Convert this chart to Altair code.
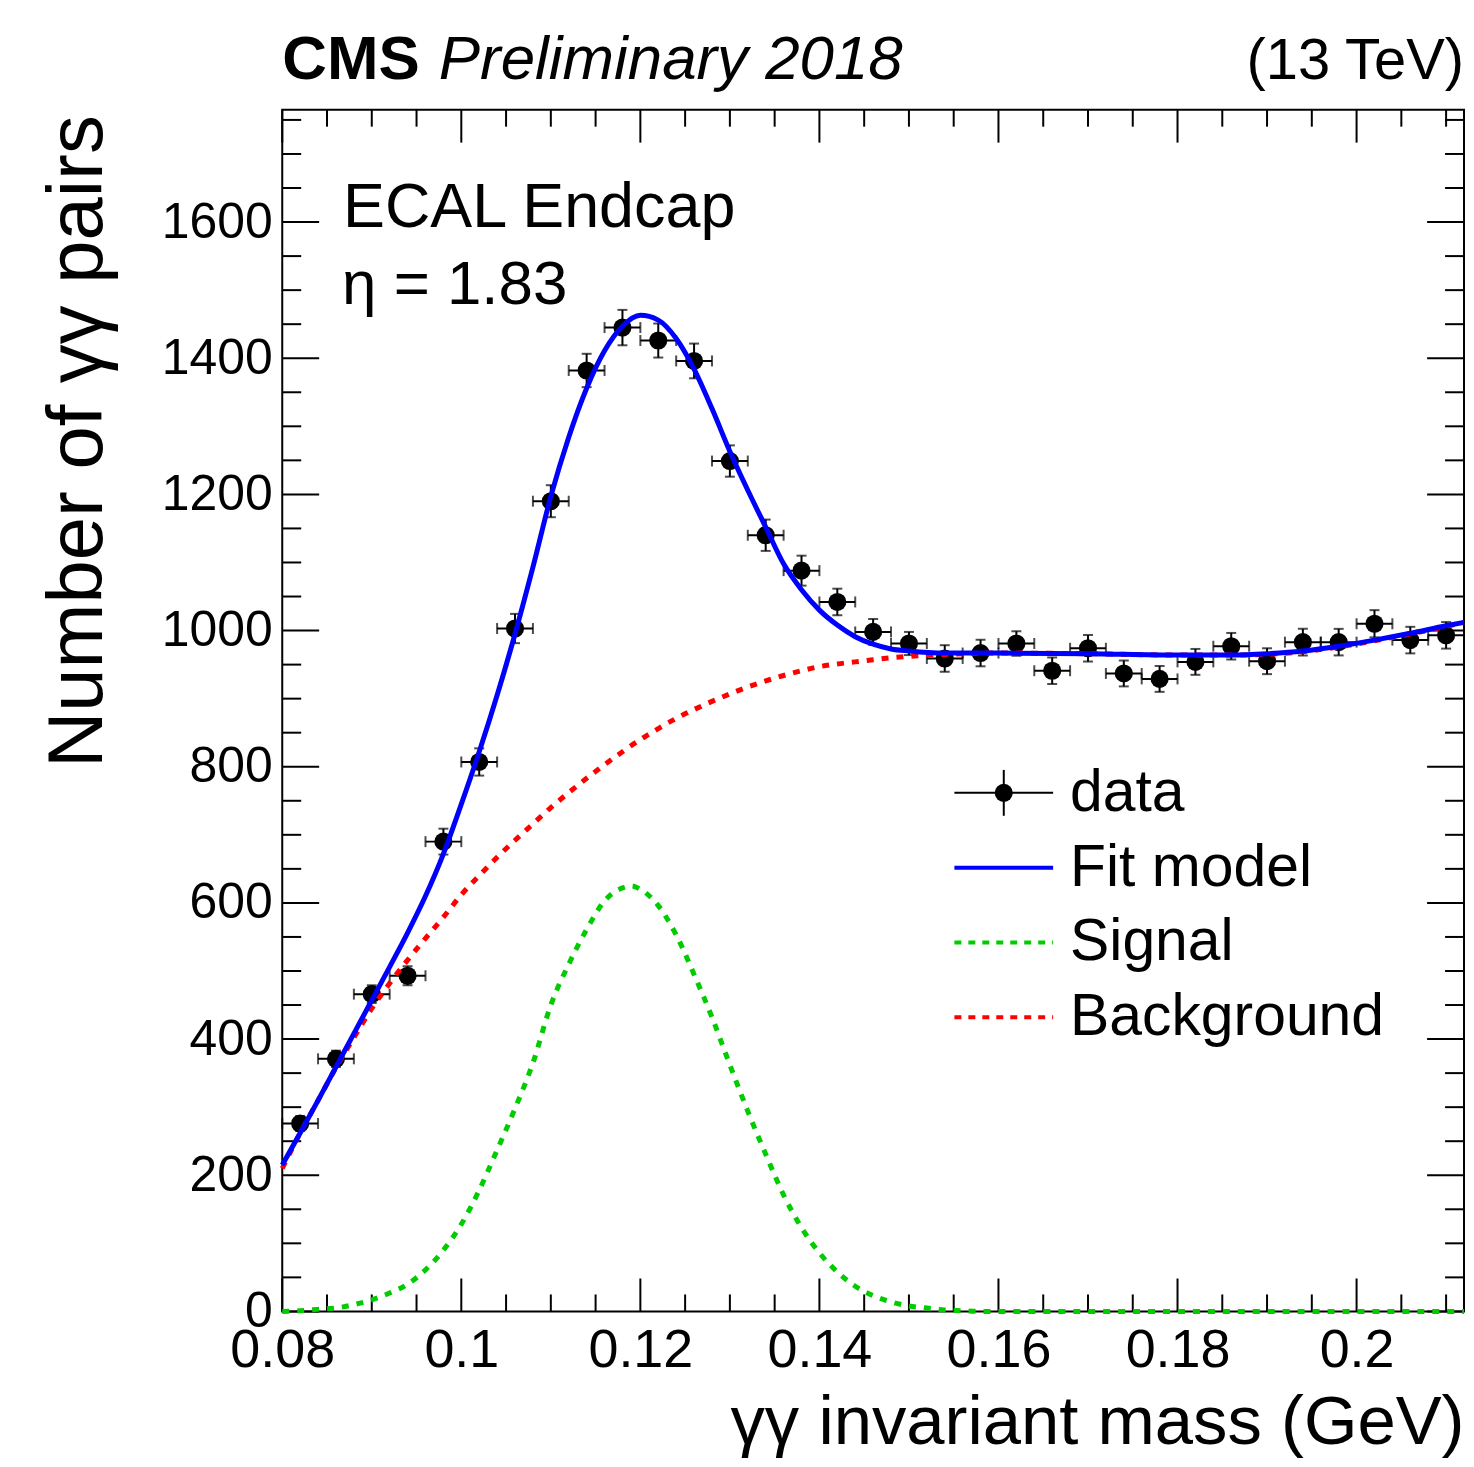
import altair as alt
import pandas as pd

FONT = "Liberation Sans"

# ---------------- data ----------------
mass = [0.082, 0.086, 0.090, 0.094, 0.098, 0.102, 0.106, 0.110, 0.114, 0.118,
        0.122, 0.126, 0.130, 0.134, 0.138, 0.142, 0.146, 0.150, 0.154, 0.158,
        0.162, 0.166, 0.170, 0.174, 0.178, 0.182, 0.186, 0.190, 0.194, 0.198,
        0.202, 0.206, 0.210]
counts = [276, 371, 466, 493, 690, 807, 1003, 1190, 1382, 1445,
          1426, 1396, 1249, 1140, 1088, 1042, 998, 981, 959, 967,
          981, 941, 974, 937, 929, 954, 977, 955, 983, 983,
          1010, 986, 993]
errors = [11, 12, 13, 14, 19, 20, 21.5, 23.5, 24.5, 26,
          25, 25.5, 23, 23, 22, 19.5, 19, 17, 19.5, 19.5,
          18, 19.5, 19.5, 19, 19, 19, 19.5, 19, 19.5, 19.5,
          20, 19.5, 19.5]
BIN_HALF = 0.002

sig_x = [0.080, 0.082, 0.084, 0.086, 0.088, 0.090, 0.092, 0.094, 0.096, 0.098,
         0.100, 0.102, 0.104, 0.106, 0.108, 0.110, 0.112, 0.114, 0.116, 0.118,
         0.119, 0.120, 0.122, 0.124, 0.126, 0.128, 0.130, 0.132, 0.134, 0.136,
         0.138, 0.140, 0.142, 0.144, 0.146, 0.148, 0.150, 0.152, 0.154, 0.156,
         0.158, 0.212]
sig_y = [0, 1, 3, 5, 10, 17, 27, 40, 61, 90,
         128, 178, 237, 298, 365, 450, 510, 561, 603, 622,
         625, 620, 596, 553, 495, 432, 362, 294, 231, 171,
         123, 86, 58, 37, 23, 14, 8, 5, 2, 1,
         0, 0]

bkg_x = [0.080, 0.082, 0.084, 0.086, 0.088, 0.090, 0.092, 0.094, 0.096, 0.098,
         0.100, 0.102, 0.104, 0.106, 0.108, 0.110, 0.112, 0.114, 0.116, 0.118,
         0.120, 0.122, 0.124, 0.126, 0.128, 0.130, 0.132, 0.134, 0.136, 0.138,
         0.140, 0.142, 0.144, 0.146, 0.148, 0.150, 0.154, 0.160, 0.170, 0.180,
         0.186, 0.190, 0.194, 0.198, 0.202, 0.206, 0.210, 0.212]
bkg_y = [210, 262, 310, 358, 402, 445, 482, 516, 548, 579,
         612, 640, 667, 692, 716, 740, 762, 783, 803, 822,
         840, 856, 871, 884, 896, 907, 917, 926, 934, 941,
         947, 951, 954, 957, 960, 962, 965, 967, 966, 964,
         964, 965, 969, 976, 985, 995, 1006, 1012]

fit_x = [0.080, 0.082, 0.084, 0.086, 0.088, 0.090, 0.092, 0.094, 0.096, 0.098,
         0.100, 0.102, 0.104, 0.106, 0.108, 0.110, 0.112, 0.114, 0.116, 0.118,
         0.120, 0.122, 0.124, 0.126, 0.128, 0.130, 0.132, 0.134, 0.136, 0.138,
         0.140, 0.142, 0.144, 0.146, 0.148, 0.150, 0.154, 0.160, 0.170, 0.180,
         0.186, 0.190, 0.194, 0.198, 0.202, 0.206, 0.210, 0.212]
fit_y = [215, 262, 310, 359, 408, 457, 506, 556, 610, 672,
         745, 822, 905, 995, 1093, 1197, 1284, 1356, 1411, 1447,
         1463, 1456, 1429, 1384, 1326, 1263, 1206, 1152, 1098, 1060,
         1030, 1008, 991, 980, 973, 970, 967, 967, 966, 964,
         964, 966, 970, 977, 986, 996, 1007, 1012]

x_tick_values = [0.08, 0.10, 0.12, 0.14, 0.16, 0.18, 0.20]
y_tick_values = [0, 200, 400, 600, 800, 1000, 1200, 1400, 1600]
x_minor_values = [round(0.08 + 0.005 * i, 3) for i in range(1, 27) if i % 4 != 0]
y_minor_values = [50 * i for i in range(1, 36) if i % 4 != 0]

legend_labels = ["data", "Fit model", "Signal", "Background"]

X_DOMAIN = [0.08, 0.212]
Y_DOMAIN = [0, 1765]
W, H = 1185, 1205

xs = alt.Scale(domain=X_DOMAIN, nice=False, zero=False)
ys = alt.Scale(domain=Y_DOMAIN, nice=False, zero=False)

# ---------------- data frames ----------------
pts = pd.DataFrame({"m": mass, "n": counts, "e": errors})
pts["lo"] = pts["n"] - pts["e"]
pts["hi"] = pts["n"] + pts["e"]
pts["ml"] = pts["m"] - BIN_HALF
pts["mh"] = pts["m"] + BIN_HALF

sig_df = pd.DataFrame({"m": sig_x, "v": sig_y})
bkg_df = pd.DataFrame({"m": bkg_x, "v": bkg_y})
fit_df = pd.DataFrame({"m": fit_x, "v": fit_y})

x_axis = alt.Axis(
    values=x_tick_values, format=".2~f", labelFont=FONT, labelFontSize=54,
    labelColor="black", ticks=False, tickSize=0, domain=False, grid=False,
    labelPadding=12, labelFlush=False, labelOverlap=False,
    title="γγ invariant mass (GeV)", titleFont=FONT, titleFontSize=69,
    titleFontWeight="normal", titleColor="black", titleAlign="right",
    titleAnchor="end", titleX=W, titleY=132, titleBaseline="alphabetic",
)
y_axis = alt.Axis(
    values=y_tick_values, format="d", labelFont=FONT, labelFontSize=50,
    labelColor="black", ticks=False, tickSize=0, domain=False, grid=False,
    labelPadding=10, labelFlush=False, labelOverlap=False,
    title="Number of γγ pairs", titleFont=FONT, titleFontSize=78,
    titleFontWeight="normal", titleColor="black", titleAngle=270,
    titleAlign="right", titleBaseline="alphabetic", titleX=-181, titleY=5,
)

base = alt.Chart(pts)

# axes carrier (invisible points)
axes_layer = base.mark_point(opacity=0).encode(
    x=alt.X("m:Q", scale=xs, axis=x_axis),
    y=alt.Y("n:Q", scale=ys, axis=y_axis),
)

err_v = base.mark_rule(color="black", strokeWidth=2).encode(
    x=alt.X("m:Q", scale=xs), y=alt.Y("lo:Q", scale=ys), y2="hi:Q")
err_h = base.mark_rule(color="black", strokeWidth=2).encode(
    x=alt.X("ml:Q", scale=xs), x2="mh:Q", y=alt.Y("n:Q", scale=ys))
cap_lo = base.mark_tick(color="black", orient="horizontal", size=10, thickness=2).encode(
    x=alt.X("m:Q", scale=xs), y=alt.Y("lo:Q", scale=ys))
cap_hi = base.mark_tick(color="black", orient="horizontal", size=10, thickness=2).encode(
    x=alt.X("m:Q", scale=xs), y=alt.Y("hi:Q", scale=ys))
cap_l = base.mark_tick(color="black", orient="vertical", size=11, thickness=2).encode(
    x=alt.X("ml:Q", scale=xs), y=alt.Y("n:Q", scale=ys))
cap_r = base.mark_tick(color="black", orient="vertical", size=11, thickness=2).encode(
    x=alt.X("mh:Q", scale=xs), y=alt.Y("n:Q", scale=ys))
dots = base.mark_circle(color="black", size=330, opacity=1).encode(
    x=alt.X("m:Q", scale=xs), y=alt.Y("n:Q", scale=ys))

bkg_line = alt.Chart(bkg_df).mark_line(
    color="#ff0000", strokeWidth=5, strokeDash=[7, 8], interpolate="monotone"
).encode(x=alt.X("m:Q", scale=xs), y=alt.Y("v:Q", scale=ys))
sig_line = alt.Chart(sig_df).mark_line(
    color="#00cc00", strokeWidth=5, strokeDash=[7, 8], interpolate="monotone"
).encode(x=alt.X("m:Q", scale=xs), y=alt.Y("v:Q", scale=ys))
fit_line = alt.Chart(fit_df).mark_line(
    color="#0000ff", strokeWidth=5, interpolate="monotone"
).encode(x=alt.X("m:Q", scale=xs), y=alt.Y("v:Q", scale=ys))

# ---------------- inward ticks (ROOT style) ----------------
XMAJ, XMIN, YMAJ, YMIN = 33, 17, 37, 19
xmaj_df = pd.DataFrame({"t": x_tick_values})
xmin_df = pd.DataFrame({"t": x_minor_values})
ymaj_df = pd.DataFrame({"t": y_tick_values})
ymin_df = pd.DataFrame({"t": y_minor_values})


def xticks(df, length):
    b = alt.Chart(df).mark_rule(color="black", strokeWidth=2)
    bottom = b.encode(x=alt.X("t:Q", scale=xs), y=alt.value(H), y2=alt.value(H - length))
    top = b.encode(x=alt.X("t:Q", scale=xs), y=alt.value(0), y2=alt.value(length))
    return [bottom, top]


def yticks(df, length):
    b = alt.Chart(df).mark_rule(color="black", strokeWidth=2)
    left = b.encode(y=alt.Y("t:Q", scale=ys), x=alt.value(0), x2=alt.value(length))
    right = b.encode(y=alt.Y("t:Q", scale=ys), x=alt.value(W), x2=alt.value(W - length))
    return [left, right]


tick_layers = xticks(xmaj_df, XMAJ) + xticks(xmin_df, XMIN) + yticks(ymaj_df, YMAJ) + yticks(ymin_df, YMIN)

# ---------------- texts ----------------
one = alt.Data(values=[{}])


def txt(text, x, y, size, weight="normal", style="normal", align="left"):
    return alt.Chart(one).mark_text(
        text=text, font=FONT, fontSize=size, fontWeight=weight, fontStyle=style,
        align=align, baseline="alphabetic", color="black"
    ).encode(x=alt.value(x), y=alt.value(y))


texts = [
    txt("CMS", 0, -31, 62, weight="bold"),
    txt("Preliminary 2018", 157, -31, 62, style="italic"),
    txt("(13 TeV)", W, -31, 58, align="right"),
    txt("ECAL Endcap", 61, 118, 63),
    txt("η = 1.83", 60, 195, 62),
]

# ---------------- legend ----------------
LX0, LX1, LTX = 674, 773, 790
rows = [685, 760, 835, 910]


def seg(y, color, dash=None, width=4):
    kw = dict(color=color, strokeWidth=width)
    if dash:
        kw["strokeDash"] = dash
    return alt.Chart(one).mark_rule(**kw).encode(
        x=alt.value(LX0), x2=alt.value(LX1), y=alt.value(y))


legend = [
    seg(rows[0], "black", width=2),
    alt.Chart(one).mark_rule(color="black", strokeWidth=2).encode(
        x=alt.value((LX0 + LX1) / 2), y=alt.value(rows[0] - 23), y2=alt.value(rows[0] + 23)),
    alt.Chart(one).mark_circle(color="black", size=330, opacity=1).encode(
        x=alt.value((LX0 + LX1) / 2), y=alt.value(rows[0])),
    seg(rows[1], "#0000ff", width=4),
    seg(rows[2], "#00cc00", dash=[7, 7], width=4),
    seg(rows[3], "#ff0000", dash=[7, 7], width=4),
]
for label, ry in zip(legend_labels, rows):
    legend.append(txt(label, LTX, ry + 18, 59))

chart = alt.layer(
    axes_layer, *tick_layers,
    err_v, err_h, cap_lo, cap_hi, cap_l, cap_r, dots,
    bkg_line, sig_line, fit_line,
    *texts, *legend,
).properties(
    width=W, height=H,
    padding={"left": 275, "top": 100, "right": 2, "bottom": 146},
    autosize=alt.AutoSizeParams(type="none"),
).configure_view(stroke="black", strokeWidth=2)

chart.save("out.html", embed_options={"renderer": "svg", "actions": False})
